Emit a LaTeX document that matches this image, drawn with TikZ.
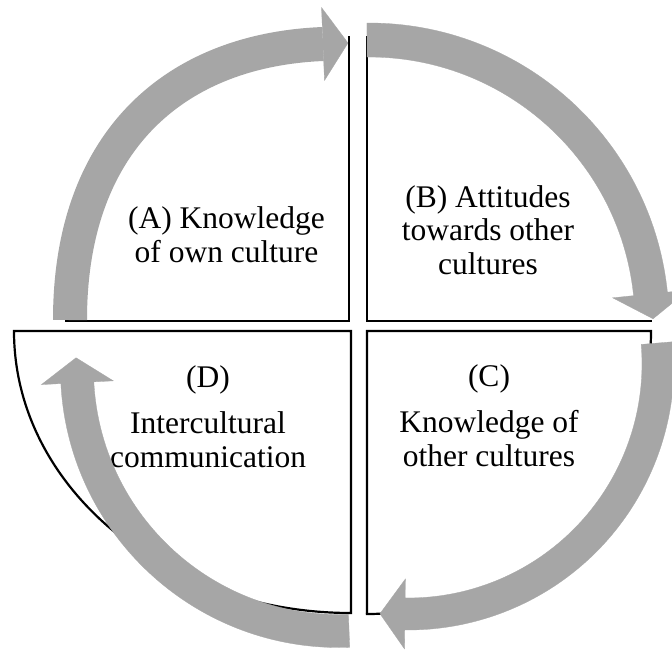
\documentclass[tikz,border=0pt]{standalone}
\usepackage{fontspec}
\setmainfont{Liberation Serif}
\usetikzlibrary{calc}
\definecolor{arrowgray}{RGB}{166,166,166}
\tikzset{
  quadedge/.style={draw=black, line width=2.2pt, line join=miter, line cap=rect},
  quadtext/.style={font=\fontsize{31.5}{33.5}\selectfont, align=center, inner sep=0pt, anchor=base},
  cyc/.style={fill=arrowgray, draw=arrowgray, line width=0.3pt},
  band/.style={draw=arrowgray, line cap=butt}
}
% circular arrow: #1 cx, #2 cy, #3 rx, #4 ry, #5 start angle, #6 end angle, #7 band width, #8 half head width, #9 head length
\newcommand\cyclearrow[9]{%
  \filldraw[cyc]
    ($(#1,#2)+({#5}:{#3+#7/2} and {#4+#7/2})$)
    arc[start angle=#5, end angle=#6, x radius={#3+#7/2}, y radius={#4+#7/2}]
    -- ($(#1,#2)+({#6}:{#3+#8} and {#4+#8})$)
    -- ($(#1,#2)+({#6}:{#3} and {#4})+({#6+90}:#9)$)
    -- ($(#1,#2)+({#6}:{#3-#8} and {#4-#8})$)
    -- ($(#1,#2)+({#6}:{#3-#7/2} and {#4-#7/2})$)
    arc[start angle=#6, end angle=#5, x radius={#3-#7/2}, y radius={#4-#7/2}]
    -- cycle;}
\begin{document}
\begin{tikzpicture}[x=1pt, y=-1pt]
  \fill[white] (0,0) rectangle (672,654);
  \useasboundingbox (0,0) rectangle (672,654);

  % quadrant corners
  \coordinate (Acorner) at (349,321);
  \coordinate (Bcorner) at (367,321);
  \coordinate (Ccorner) at (367,331);
  \coordinate (Dcorner) at (351,331);

  % A: right and bottom edges
  \draw[quadedge] (349,37) -- (Acorner) -- (66,321);
  % B: left and bottom edges
  \draw[quadedge] (367,37) -- (Bcorner) -- (651,321);
  % C: top and left edges, arc ends
  \draw[quadedge] (367,613) -- (Ccorner) -- (651,331)
        arc[start angle=0, end angle=5, radius=283];
  \draw[quadedge] (Ccorner) ++(85:283) arc[start angle=85, end angle=90, radius=283];
  % D: full quarter ellipse
  \draw[quadedge] (Dcorner) -- (14,331)
        arc[start angle=180, end angle=90, x radius=337, y radius=282] -- cycle;

  % texts (anchor = baseline of the last line)
  \node[quadtext] (tA) at (226.5,262) {(A) Knowledge\\of own culture};
  \node[quadtext] (tB) at (488,274) {(B) Attitudes\\towards other\\cultures};
  \node[quadtext] (tC) at (489,466) {(C)\\[13pt]Knowledge of\\other cultures};
  \node[quadtext] (tD) at (208,467) {(D)\\[13pt]Intercultural\\communication};

  % arrow A (Bezier band + head)
  \coordinate (a0) at (70,320);
  \coordinate (a1) at (70,141);
  \coordinate (a2) at (175,50);
  \coordinate (a3) at (323,44);
  \draw[band, line width=34pt] (a0) .. controls (a1) and (a2) .. (a3);
  \filldraw[cyc] ($(a3)!36.5pt!90:(a2)$) -- ($(a3)!-25pt!(a2)$) -- ($(a3)!36.5pt!-90:(a2)$) -- cycle;

  % arrows B, C, D
  \cyclearrow{369}{323}{283}{283}{269.6}{354.1}{34}{38}{25}
  \cyclearrow{408}{364}{250}{250}{-4.8}{90.7}{32}{35}{25}
  \cyclearrow{339}{369}{262}{262}{87.8}{177}{33}{36}{25}
\end{tikzpicture}
\end{document}
